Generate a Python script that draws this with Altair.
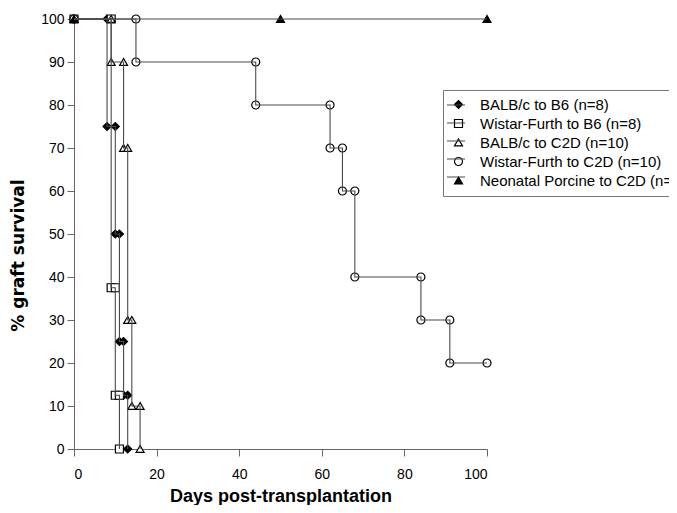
import altair as alt
import pandas as pd

series_names = [
    "BALB/c to B6 (n=8)",
    "Wistar-Furth to B6 (n=8)",
    "BALB/c to C2D (n=10)",
    "Wistar-Furth to C2D (n=10)",
    "Neonatal Porcine to C2D (n=11)",
]

balb_b6_days = [0, 8, 8, 10, 10, 11, 11, 12, 12, 13, 13]
balb_b6_surv = [100, 100, 75, 75, 50, 50, 25, 25, 12.5, 12.5, 0]

wf_b6_days = [0, 9, 9, 10, 10, 11, 11]
wf_b6_surv = [100, 100, 37.5, 37.5, 12.5, 12.5, 0]

balb_c2d_days = [0, 9, 9, 12, 12, 13, 13, 14, 14, 16, 16]
balb_c2d_surv = [100, 100, 90, 90, 70, 70, 30, 30, 10, 10, 0]

wf_c2d_days = [0, 15, 15, 44, 44, 62, 62, 65, 65, 68, 68, 84, 84, 91, 91, 100]
wf_c2d_surv = [100, 100, 90, 90, 80, 80, 70, 70, 60, 60, 40, 40, 30, 30, 20, 20]

porcine_days = [0, 50, 100]
porcine_surv = [100, 100, 100]

x_ticks = [0, 20, 40, 60, 80, 100]
y_ticks = [0, 10, 20, 30, 40, 50, 60, 70, 80, 90, 100]

shapes = ["diamond", "square", "triangle-up", "circle", "triangle-up"]
fills = ["black", "white", "white", "white", "black"]

rows = []
for name, days, surv in zip(
    series_names,
    [balb_b6_days, wf_b6_days, balb_c2d_days, wf_c2d_days, porcine_days],
    [balb_b6_surv, wf_b6_surv, balb_c2d_surv, wf_c2d_surv, porcine_surv],
):
    for i, (d, s) in enumerate(zip(days, surv)):
        rows.append({"series": name, "line_series": "L " + name, "day": d, "surv": s, "idx": i})
df = pd.DataFrame(rows)

FONT = "Liberation Sans"
WIDE = "DejaVu Sans"

x_enc = alt.X(
    "day:Q",
    scale=alt.Scale(domain=[0, 100], nice=False, zero=False),
    axis=alt.Axis(
        values=x_ticks,
        title="Days post-transplantation",
        labelPadding=11,
        titleY=38,
        titleFontSize=18,
    ),
)
y_enc = alt.Y(
    "surv:Q",
    scale=alt.Scale(domain=[0, 100], nice=False),
    axis=alt.Axis(
        values=y_ticks,
        title="% graft survival",
        labelPadding=3,
        titleFont=WIDE,
        titleFontSize=17,
        titleX=-47,
        titleY=236,
    ),
)

base = alt.Chart(df)

lines = base.mark_line(strokeWidth=1.1, color="#4a4a4a", clip=False).encode(
    x=x_enc,
    y=y_enc,
    strokeDash=alt.StrokeDash(
        "line_series:N",
        scale=alt.Scale(range=[[1, 0]]),
        legend=alt.Legend(
            title=None,
            orient="none",
            legendX=372,
            legendY=76,
            padding=0,
            symbolType="stroke",
            symbolSize=324,
            symbolStrokeWidth=1.1,
            symbolStrokeColor="#4a4a4a",
            rowPadding=0,
            labelFontSize=15,
            labelFont=FONT,
            labelExpr="''",
        ),
    ),
    order="idx:Q",
)

pt_legend = alt.Legend(
    title=None,
    orient="none",
    legendX=369,
    legendY=71,
    padding=7,
    strokeColor="#777777",
    symbolSize=64,
    symbolStrokeWidth=1.2,
    symbolOffset=1,
    labelOffset=14,
    labelLimit=400,
    rowPadding=3,
    labelFontSize=15,
    labelFont=FONT,
    labelColor="black",
)

points = base.mark_point(filled=True, size=64, strokeWidth=1.2, opacity=1, clip=False).encode(
    x=x_enc,
    y=y_enc,
    shape=alt.Shape("series:N", scale=alt.Scale(domain=series_names, range=shapes), legend=pt_legend),
    fill=alt.Fill("series:N", scale=alt.Scale(domain=series_names, range=fills), legend=pt_legend),
    stroke=alt.Stroke("series:N", scale=alt.Scale(domain=series_names, range=["black"] * 5), legend=pt_legend),
)

chart = (
    alt.layer(points, lines)
    .properties(
        width=413,
        height=430,
        autosize=alt.AutoSizeParams(type="none"),
        padding={"left": 66, "top": 11, "right": 182, "bottom": 56},
    )
    .configure_view(stroke=None)
    .configure_axis(
        grid=False,
        domainColor="#666666",
        tickColor="#666666",
        tickSize=7,
        labelFont=FONT,
        labelFontSize=14,
        labelColor="black",
        titleFont=FONT,
        titleFontSize=18,
        titleFontWeight="bold",
        titleColor="black",
    )
)

chart.save("out.html", embed_options={"renderer": "svg", "actions": False})
